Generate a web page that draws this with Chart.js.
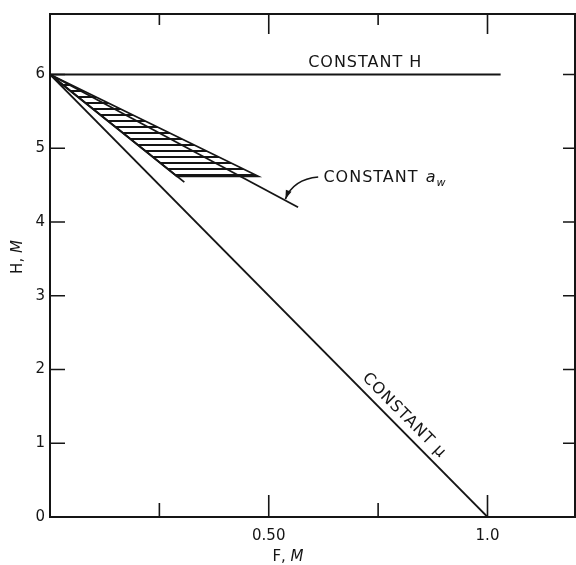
<!DOCTYPE html>
<html lang="en">
<head>
<meta charset="UTF-8">
<title>H vs F</title>
<script src="https://cdn.jsdelivr.net/npm/chart.js"></script>
<style>
  html, body { margin: 0; padding: 0; background: #fff; }
  #wrap { width: 576px; height: 565px; }
</style>
</head>
<body>
<div id="wrap"><canvas id="chart"></canvas></div>
<script>
// line end points, F (M) and H (M)
const constHF = [0, 1.03];
const constHH = [6, 6];
const constMuF = [0, 1.0];
const constMuH = [6, 0];
const constAwF = [0, 0.567];
const constAwH = [6, 4.2];
// hatched band round the a_w line
const bandF = [0, 0.476, 0.29, 0];
const bandH = [6, 4.62, 4.62, 6];
const bandLowerF = [0, 0.307];
const bandLowerH = [6, 4.54];
// leader arrow: start, control, tip
const arrowF = [0.613, 0.556, 0.538];
const arrowH = [4.61, 4.58, 4.31];

const xTickVals = [0.5, 1.0];
const xTickLabels = ['0.50', '1.0'];
const xMinorTicks = [0.25, 0.75];
const yTickVals = [0, 1, 2, 3, 4, 5, 6];

const INK = '#151515';
const FONT = 'DejaVu Sans';

const pts = (fs, hs) => fs.map((f, i) => ({ x: f, y: hs[i] }));

const canvas = document.getElementById('chart');
const ctx0 = canvas.getContext('2d');

// horizontal hatch lines
function hatch() {
    const c = document.createElement('canvas');
    c.width = 8; c.height = 6;
    const g = c.getContext('2d');
    g.fillStyle = INK;
    g.fillRect(0, 0, 8, 2);
    return ctx0.createPattern(c, 'repeat');
}

function line(fs, hs, extra) {
    return Object.assign({
        data: pts(fs, hs),
        showLine: true,
        borderColor: INK,
        borderWidth: 1.8,
        pointRadius: 0,
        fill: false
    }, extra || {});
}

// box, inward tick marks, arrow and text labels
const decor = {
    id: 'decor',
    afterDatasetsDraw(chart) {
        const { ctx, chartArea: a, scales: { x, y } } = chart;
        ctx.save();
        ctx.strokeStyle = INK;
        ctx.lineWidth = 2;
        ctx.strokeRect(a.left, a.top, a.right - a.left, a.bottom - a.top);

        ctx.lineWidth = 1.6;
        ctx.beginPath();
        xMinorTicks.forEach(v => {
            const px = x.getPixelForValue(v);
            ctx.moveTo(px, a.bottom); ctx.lineTo(px, a.bottom - 14);
            ctx.moveTo(px, a.top); ctx.lineTo(px, a.top + 11);
        });
        xTickVals.forEach(v => {
            const px = x.getPixelForValue(v);
            ctx.moveTo(px, a.bottom); ctx.lineTo(px, a.bottom - 22);
            ctx.moveTo(px, a.top); ctx.lineTo(px, a.top + 20);
        });
        yTickVals.slice(1).forEach(v => {
            const py = y.getPixelForValue(v);
            ctx.moveTo(a.left, py); ctx.lineTo(a.left + 15, py);
            ctx.moveTo(a.right, py); ctx.lineTo(a.right - 12, py);
        });
        ctx.stroke();

        // leader arrow to the a_w line
        const ap = arrowF.map((f, i) => [x.getPixelForValue(f), y.getPixelForValue(arrowH[i])]);
        ctx.lineWidth = 1.6;
        ctx.beginPath();
        ctx.moveTo(ap[0][0], ap[0][1]);
        ctx.quadraticCurveTo(ap[1][0], ap[1][1], ap[2][0], ap[2][1]);
        ctx.stroke();
        const ang = Math.atan2(ap[2][1] - ap[1][1], ap[2][0] - ap[1][0]);
        ctx.translate(ap[2][0], ap[2][1]);
        ctx.rotate(ang);
        ctx.fillStyle = INK;
        ctx.beginPath();
        ctx.moveTo(0, 0); ctx.lineTo(-9, -3); ctx.lineTo(-9, 3); ctx.closePath();
        ctx.fill();
        ctx.restore();

        ctx.save();
        ctx.fillStyle = INK;
        ctx.textBaseline = 'middle';
        ctx.letterSpacing = '1px';
        ctx.font = `16px "${FONT}"`;
        ctx.textAlign = 'left';
        ctx.fillText('CONSTANT H', x.getPixelForValue(0.59), y.getPixelForValue(6.16));

        let lx = x.getPixelForValue(0.625), ly = y.getPixelForValue(4.6);
        ctx.fillText('CONSTANT', lx, ly);
        lx += ctx.measureText('CONSTANT ').width + 1;
        ctx.font = `italic 16px "${FONT}"`;
        ctx.fillText('a', lx, ly);
        lx += ctx.measureText('a').width;
        ctx.font = `italic 11px "${FONT}"`;
        ctx.fillText('w', lx, ly + 5);

        // label along the mu line
        const p0x = x.getPixelForValue(0), p0y = y.getPixelForValue(6);
        const p1x = x.getPixelForValue(1), p1y = y.getPixelForValue(0);
        ctx.translate(x.getPixelForValue(0.79), y.getPixelForValue(1.26));
        ctx.rotate(Math.atan2(p1y - p0y, p1x - p0x));
        ctx.font = `16px "${FONT}"`;
        ctx.textAlign = 'center';
        ctx.fillText('CONSTANT μ', 0, -12);
        ctx.restore();

        // axis titles, M in italics
        function title(cx, cy, rot) {
            ctx.save();
            ctx.translate(cx, cy);
            ctx.rotate(rot);
            ctx.fillStyle = INK;
            ctx.textBaseline = 'middle';
            ctx.font = `15px "${FONT}"`;
            const w1 = ctx.measureText(rot ? 'H, ' : 'F, ').width;
            ctx.font = `italic 15px "${FONT}"`;
            const w2 = ctx.measureText('M').width;
            const s = -(w1 + w2) / 2;
            ctx.textAlign = 'left';
            ctx.font = `15px "${FONT}"`;
            ctx.fillText(rot ? 'H, ' : 'F, ', s, 0);
            ctx.font = `italic 15px "${FONT}"`;
            ctx.fillText('M', s + w1, 0);
            ctx.restore();
        }
        title(288, 557, 0);
        title(18, 257, -Math.PI / 2);
    }
};

new Chart(canvas, {
    type: 'scatter',
    data: {
        datasets: [
            line(bandF, bandH, { fill: 'shape', backgroundColor: hatch() }),
            line(bandLowerF, bandLowerH),
            line(constAwF, constAwH),
            line(constHF, constHH),
            line(constMuF, constMuH)
        ]
    },
    options: {
        responsive: true,
        maintainAspectRatio: false,
        animation: false,
        layout: { padding: { top: 14, right: 1, left: 0, bottom: 0 } },
        plugins: {
            legend: { display: false },
            tooltip: { enabled: false }
        },
        scales: {
            x: {
                type: 'linear',
                min: 0,
                max: 1.2,
                grid: { display: false, drawTicks: false },
                border: { display: false },
                afterBuildTicks: s => { s.ticks = xTickVals.map(v => ({ value: v })); },
                afterFit: s => { s.height = 48; },
                ticks: {
                    padding: 10,
                    color: INK,
                    font: { family: FONT, size: 15 },
                    maxRotation: 0,
                    callback: v => xTickLabels[xTickVals.indexOf(v)]
                }
            },
            y: {
                type: 'linear',
                min: 0,
                max: 6.82,
                grid: { display: false, drawTicks: false },
                border: { display: false },
                afterBuildTicks: s => { s.ticks = yTickVals.map(v => ({ value: v })); },
                afterFit: s => { s.width = 50; },
                ticks: {
                    padding: 5,
                    color: INK,
                    font: { family: FONT, size: 15 },
                    callback: v => String(v)
                }
            }
        }
    },
    plugins: [decor]
});
</script>
</body>
</html>
